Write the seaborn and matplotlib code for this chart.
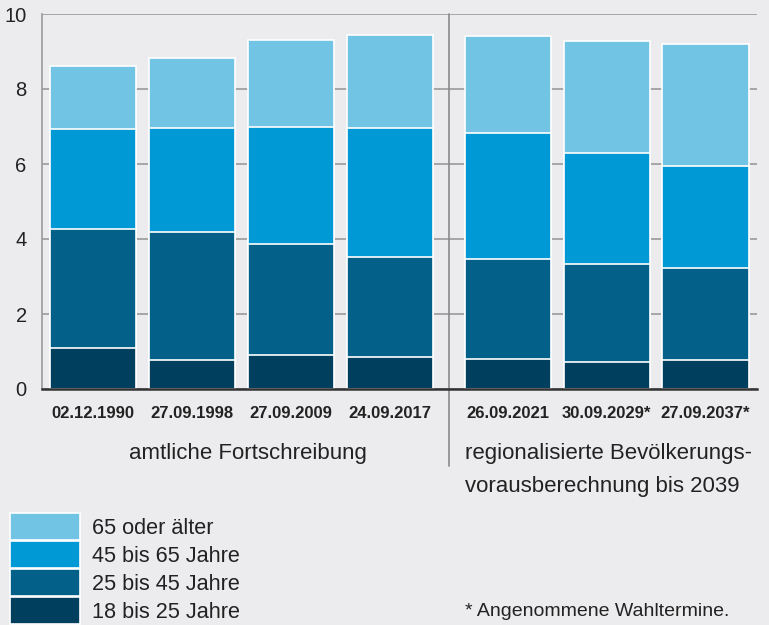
import numpy as np
import pandas as pd
import matplotlib.pyplot as plt
import seaborn as sns

# === Daten (Wahlberechtigte nach Altersgruppen) ===
dates = ["02.12.1990", "27.09.1998", "27.09.2009", "24.09.2017",
         "26.09.2021", "30.09.2029*", "27.09.2037*"]
projected = [False, False, False, False, True, True, True]

age_18_25 = [1.10, 0.77, 0.91, 0.85, 0.81, 0.73, 0.77]
age_25_45 = [3.17, 3.42, 2.96, 2.66, 2.67, 2.61, 2.46]
age_45_65 = [2.67, 2.78, 3.11, 3.45, 3.35, 2.96, 2.72]
age_65_up = [1.68, 1.86, 2.33, 2.49, 2.59, 2.98, 3.26]

groups = ["18 bis 25 Jahre", "25 bis 45 Jahre", "45 bis 65 Jahre", "65 oder älter"]
colors = {"65 oder älter": "#72c4e5", "45 bis 65 Jahre": "#0099d5",
          "25 bis 45 Jahre": "#036088", "18 bis 25 Jahre": "#003f5e"}

group_labels = ["amtliche Fortschreibung",
                "regionalisierte Bevölkerungs-\nvorausberechnung bis 2039"]
footnote = "* Angenommene Wahltermine."

# === Positionen mit Lücke zwischen den Blöcken ===
gap = 0.19
pos = [i + (gap if p else 0) for i, p in enumerate(projected)]

# === gestapelte Werte (kumuliert) ===
stack = np.cumsum(np.array([age_18_25, age_25_45, age_45_65, age_65_up]), axis=0)
rows = []
for g, vals in zip(groups, stack):
    for x, v in zip(pos, vals):
        rows.append({"pos": x, "wert": v, "gruppe": g})
df = pd.DataFrame(rows)

# === Plot ===
sns.set_theme(style="white")
bg = "#ececee"
plt.rcParams["font.family"] = ["Liberation Sans", "DejaVu Sans"]
plt.rcParams["text.color"] = "#222222"

fig = plt.figure(figsize=(7.69, 6.25), dpi=100, facecolor=bg)
ax = fig.add_axes([42 / 769, 1 - 389 / 625, 715 / 769, 375 / 625])
ax.set_facecolor(bg)

sns.barplot(data=df, x="pos", y="wert", hue="gruppe",
            hue_order=groups[::-1], palette=colors, dodge=False,
            native_scale=True, width=0.87, saturation=1, errorbar=None,
            edgecolor="white", linewidth=1.2, zorder=3, ax=ax)

ax.set_xlim(-0.515, pos[-1] + 0.52)
ax.set_ylim(0, 10)
ax.set_yticks([0, 2, 4, 6, 8, 10])
ax.yaxis.grid(True, color="#9a9a9a", linewidth=1.2, zorder=0)
ax.set_axisbelow(True)
ax.set_xticks(pos)
ax.set_xticklabels(dates, fontsize=12, fontweight="bold", color="#222222")
ax.tick_params(axis="x", length=0, pad=12)
ax.tick_params(axis="y", length=6, width=1.2, color="#9a9a9a",
               labelsize=14.5, labelcolor="#222222", pad=5)
ax.set_xlabel("")
ax.set_ylabel("")
for s in ["top", "right"]:
    ax.spines[s].set_visible(False)
ax.spines["left"].set_color("#9a9a9a")
ax.spines["left"].set_linewidth(1.2)
ax.spines["bottom"].set_color("#333333")
ax.spines["bottom"].set_linewidth(1.8)
ax.spines["bottom"].set_zorder(4)

# Trennlinie zwischen Fortschreibung und Vorausberechnung
sep = (pos[3] + pos[4]) / 2
ax.axvline(sep, ymin=-0.205, ymax=1, color="#8a8a8a", linewidth=1.2,
           clip_on=False, zorder=1)

# Gruppenbeschriftungen
fig.text(248 / 769, 1 - 453 / 625, group_labels[0], ha="center", va="center",
         fontsize=16)
fig.text(465 / 769, 1 - 443 / 625, group_labels[1], ha="left", va="top",
         fontsize=16, linespacing=1.75)

# Legende
sns.move_legend(ax, "upper left", bbox_to_anchor=(10 / 769, 1 - 513 / 625),
                bbox_transform=fig.transFigure, frameon=False, title=None,
                fontsize=15.6, handlelength=3.23, handleheight=1.54,
                labelspacing=0.05, handletextpad=0.55, borderpad=0,
                borderaxespad=0)

fig.text(465 / 769, 1 - 611 / 625, footnote, ha="left", va="center",
         fontsize=14)

plt.savefig("out.png", dpi=100, facecolor=bg)
plt.close()
